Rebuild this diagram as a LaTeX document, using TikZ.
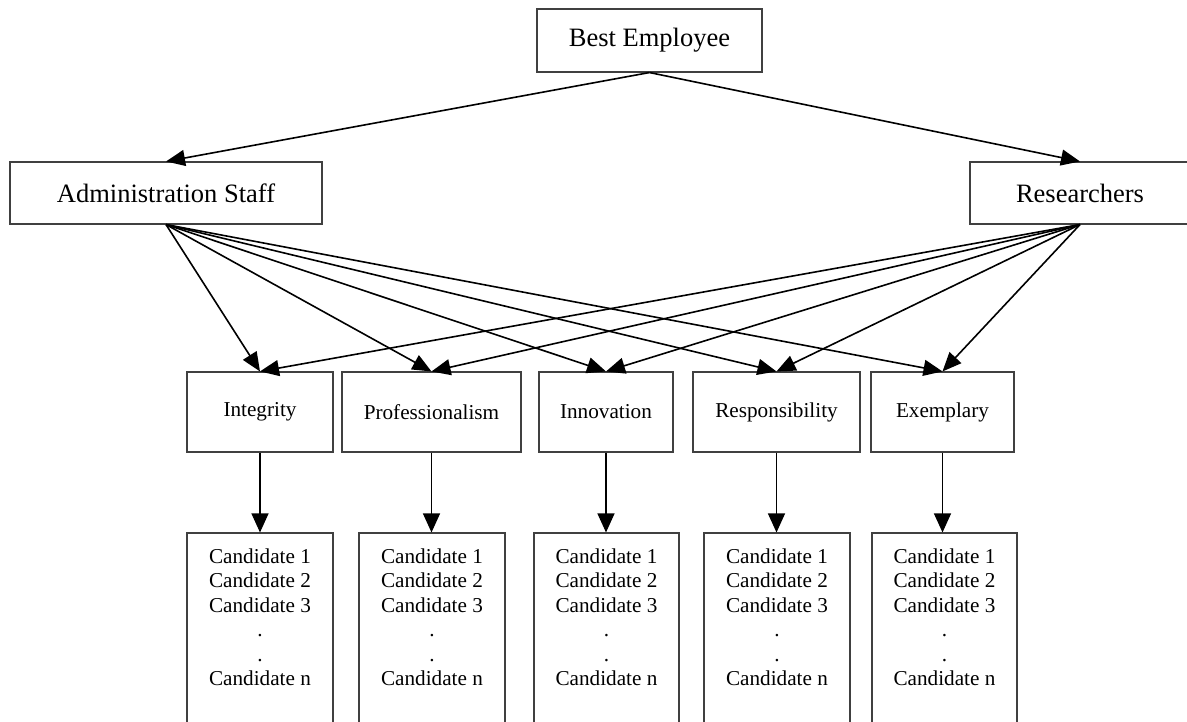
\documentclass[tikz,border=0pt]{standalone}
\usepackage{fontspec}
\setmainfont{Liberation Serif}
\usetikzlibrary{arrows.meta}
\begin{document}
\begin{tikzpicture}[x=1pt,y=-1pt,
  box/.style={draw=black!75,line width=1.1pt,rectangle,inner sep=0pt,anchor=center},
  big/.style={box,font=\fontsize{26.5}{30}\selectfont},
  crit/.style={box,minimum height=80pt,font=\fontsize{21.2}{24}\selectfont},
  cand/.style={box,minimum height=227pt},
  candtext/.style={anchor=north,align=center,inner sep=0pt,font=\fontsize{21.2}{24.4}\selectfont},
  conn/.style={line width=1.6pt,-{Triangle[length=19pt,width=16pt]}},
  vconn/.style={line width=1.2pt,-{Triangle[length=19pt,width=17pt]}}]
\useasboundingbox (0,0) rectangle (1187,722);
% top level
\node[big,minimum width=225pt,minimum height=63pt] (best) at (649.5,40.5) {Best Employee};
\node[big,minimum width=312pt,minimum height=62pt] (admin) at (166,193) {Administration Staff};
\node[big,minimum width=220pt,minimum height=62pt] (res) at (1080,193) {Researchers};
% criteria
\node[crit,minimum width=146pt] (integ) at (260,412) {Integrity};
\node[crit,minimum width=179pt] (prof) at (431.5,412) {Professionalism};
\node[crit,minimum width=134pt] (innov) at (606,412) {Innovation};
\node[crit,minimum width=167pt] (resp) at (776.5,412) {Responsibility};
\node[crit,minimum width=143pt] (exem) at (942.5,412) {Exemplary};
% candidate boxes
\node[cand,minimum width=146pt] (c1) at (260,646.5) {};
\node[cand,minimum width=146pt] (c2) at (432,646.5) {};
\node[cand,minimum width=145pt] (c3) at (606.5,646.5) {};
\node[cand,minimum width=146pt] (c4) at (777,646.5) {};
\node[cand,minimum width=145pt] (c5) at (944.5,646.5) {};
\node[candtext] (t1) at (260,548.5) {Candidate 1\\Candidate 2\\Candidate 3\\.\\.\\Candidate n};
\node[candtext] (t2) at (432,548.5) {Candidate 1\\Candidate 2\\Candidate 3\\.\\.\\Candidate n};
\node[candtext] (t3) at (606.5,548.5) {Candidate 1\\Candidate 2\\Candidate 3\\.\\.\\Candidate n};
\node[candtext] (t4) at (777,548.5) {Candidate 1\\Candidate 2\\Candidate 3\\.\\.\\Candidate n};
\node[candtext] (t5) at (944.5,548.5) {Candidate 1\\Candidate 2\\Candidate 3\\.\\.\\Candidate n};
% connectors
\draw[conn] (best.south) -- (admin.north);
\draw[conn] (best.south) -- (res.north);
\foreach \c in {integ,prof,innov,resp,exem}{
  \draw[conn] (admin.south) -- (\c.north);
  \draw[conn] (res.south) -- (\c.north);
}
\draw[vconn] (integ.south) -- (integ.south |- c1.north);
\draw[vconn] (prof.south) -- (prof.south |- c2.north);
\draw[vconn] (innov.south) -- (innov.south |- c3.north);
\draw[vconn] (resp.south) -- (resp.south |- c4.north);
\draw[vconn] (exem.south) -- (exem.south |- c5.north);
\end{tikzpicture}
\end{document}
